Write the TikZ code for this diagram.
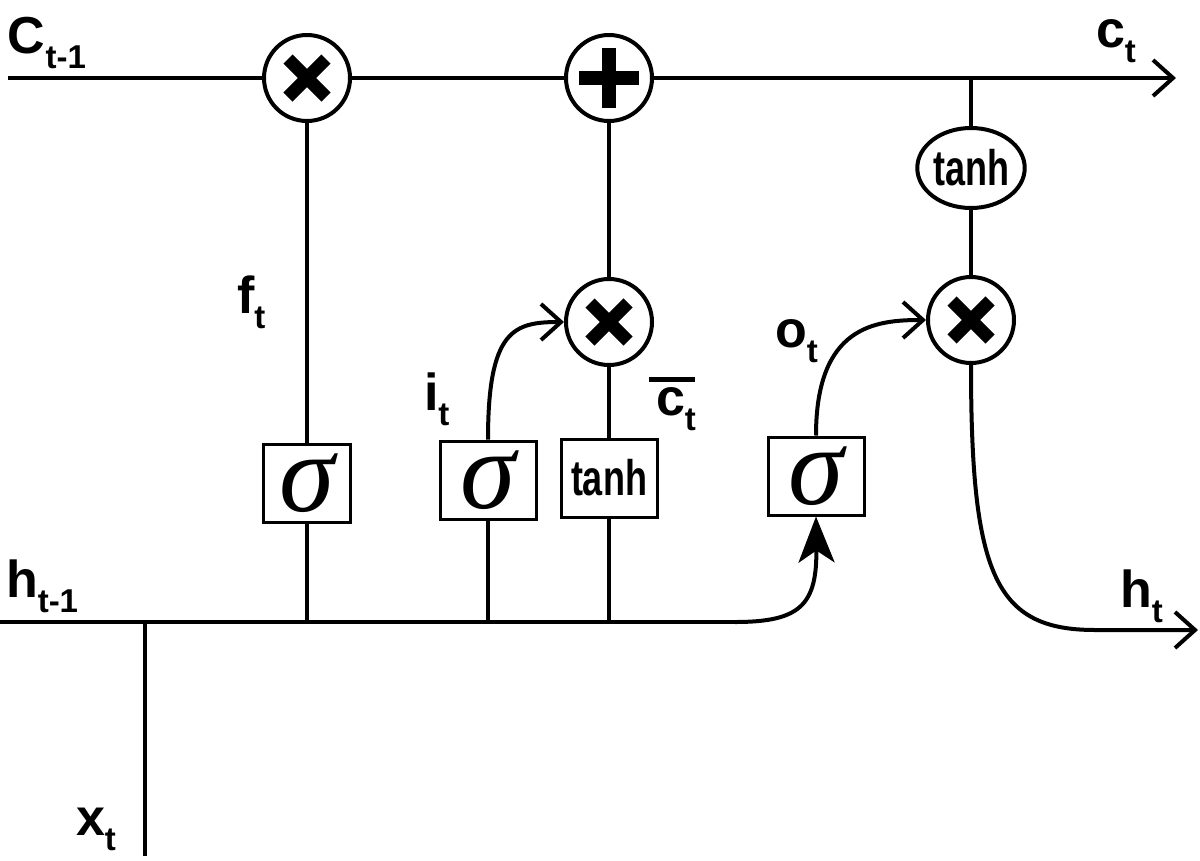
\documentclass[tikz,border=0pt]{standalone}
\usepackage{fontspec}
\setmainfont{Liberation Sans}
\newfontfamily\narrowfont{Liberation Sans}[FakeStretch=0.72]
\newfontfamily\greekfont{Liberation Serif}
\usetikzlibrary{arrows.meta,shapes.geometric}

\newcommand{\sublab}[2]{{\fontsize{52}{52}\selectfont\bfseries #1\raisebox{-15pt}{\fontsize{33}{33}\selectfont #2}}}
\newcommand{\sig}{{\fontsize{112}{112}\selectfont\greekfont\itshape σ}}
\newcommand{\tanhtxt}{{\fontsize{50}{50}\selectfont\narrowfont\bfseries tanh}}

\begin{document}
\begin{tikzpicture}[x=1pt,y=-1pt,
    line width=4pt,
    op/.style={circle,draw,fill=white,line width=4pt,minimum size=86pt,inner sep=0pt},
    mul/.style={op,path picture={
      \draw[line width=13pt]
        ([shift={(-19pt,-19pt)}]path picture bounding box.center) -- ([shift={(19pt,19pt)}]path picture bounding box.center)
        ([shift={(-19pt,19pt)}]path picture bounding box.center) -- ([shift={(19pt,-19pt)}]path picture bounding box.center);}},
    add/.style={op,path picture={
      \draw[line width=14pt]
        ([shift={(-30pt,0pt)}]path picture bounding box.center) -- ([shift={(30pt,0pt)}]path picture bounding box.center)
        ([shift={(0pt,-30pt)}]path picture bounding box.center) -- ([shift={(0pt,30pt)}]path picture bounding box.center);}},
    gate/.style={rectangle,draw,fill=white,line width=3pt,minimum width=96pt,minimum height=78pt,inner sep=0pt},
    oval/.style={ellipse,draw,fill=white,line width=4pt,minimum width=105pt,minimum height=80pt,inner sep=0pt},
    lab/.style={anchor=base west,inner sep=0pt},
    barb/.style={-{Straight Barb[length=20pt,width=36pt]}},
    bigtip/.style={-{Stealth[length=46pt,width=36pt,inset=12pt]}}]
  \useasboundingbox (0,0) rectangle (1200,860);
  %
  \node[mul] (m1) at (307,78) {};
  \node[add] (a1) at (609,78) {};
  \node[mul] (m2) at (609,322) {};
  \node[mul] (m3) at (971,320) {};
  \node[oval] (th) at (971,168) {\tanhtxt};
  \node[gate,minimum width=87pt] (s1) at (307,483) {\sig};
  \node[gate] (s2) at (488,480) {\sig};
  \node[gate] (ct) at (609,478) {\tanhtxt};
  \node[gate] (s3) at (816,476) {\sig};
  %
  \coordinate (cin)   at (8,78);
  \coordinate (cout)  at (1176,78);
  \coordinate (ctap)  at (971,78);
  \coordinate (hin)   at (0,622);
  \coordinate (hbend) at (735,622);
  \coordinate (xin)   at (145,856);
  \coordinate (hmid)  at (1095,630);
  \coordinate (hout)  at (1198,630);
  %
  \draw[barb] (cin) -- (m1) -- (a1) -- (cout);
  \draw (ctap) -- (th) -- (m3);
  \draw (s1) -- (m1);
  \draw (ct) -- (m2) -- (a1);
  \draw (hin) -- (hbend);
  \draw (xin) -- (xin |- hin);
  \draw (s1) -- (s1 |- hin);
  \draw (s2) -- (s2 |- hin);
  \draw (ct) -- (ct |- hin);
  \draw[bigtip] (hbend) .. controls (800,622) and (817,605) .. (s3.south);
  \draw[barb] (s2.north) .. controls +(0,-110) and +(-50,0) .. (m2.west);
  \draw[barb] (s3.north) .. controls +(0,-110) and +(-50,0) .. (m3.west);
  \draw[barb] (m3.south) .. controls +(0,210) and +(-100,0) .. (hmid) -- (hout);
  %
  \node[lab] (lc0) at (6,53)    {\sublab{C}{t-1}};
  \node[lab] (lc1) at (1094,47) {\sublab{c}{t}};
  \node[lab] (lf)  at (235,313) {\sublab{f}{t}};
  \node[lab] (li)  at (422,410) {\sublab{i}{t}};
  \node[lab] (lo)  at (773,347) {\sublab{o}{t}};
  \node[lab] (lcb) at (654,415) {\sublab{\makebox[0pt][l]{\hspace*{-7pt}\raisebox{33pt}{\rule{46pt}{5pt}}}c}{t}};
  \node[lab] (lh0) at (4,597)   {\sublab{h}{t-1}};
  \node[lab] (lh1) at (1118,607) {\sublab{h}{t}};
  \node[lab] (lx)  at (74,835)  {\sublab{x}{t}};
\end{tikzpicture}
\end{document}
